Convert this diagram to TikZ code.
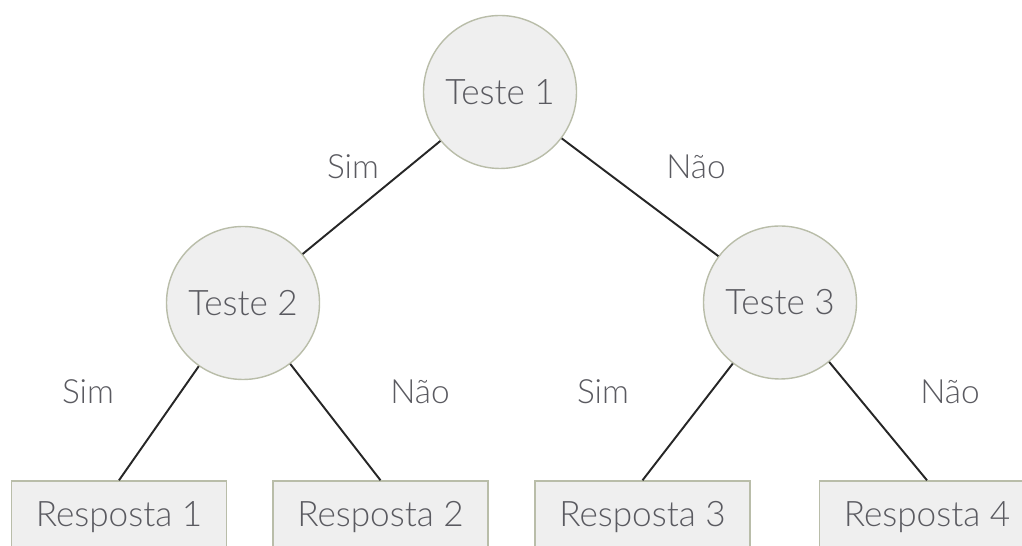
\documentclass[tikz,border=0pt]{standalone}
\usepackage{fontspec}
\setmainfont{Lato}[UprightFont=* Light]
\usepackage{tikz}
\usetikzlibrary{calc}
\definecolor{nodefill}{HTML}{EFEFEF}
\definecolor{nodeline}{HTML}{B9BDA9}
\definecolor{txtgray}{HTML}{5A5A60}
\begin{document}
\begin{tikzpicture}[test/.style={draw=nodeline,fill=nodefill,line width=.8pt,circle,minimum size=3.06cm,inner sep=0pt,text=txtgray,font=\fontsize{20}{24}\selectfont},
answer/.style={draw=nodeline,fill=nodefill,line width=.8pt,minimum width=4.3cm,minimum height=1.44cm,inner sep=0pt,text=txtgray,font=\fontsize{20}{24}\selectfont},
lbl/.style={text=txtgray,font=\fontsize{19}{23}\selectfont},edge/.style={line width=1.1pt,black!85}]
\useasboundingbox(0,0)rectangle(20.44,10.92);\clip(0,0)rectangle(20.44,10.92);
\node[test](t1)at(10.0,9.08){Teste 1};
\node[test](t2)at(4.86,4.86){Teste 2};\node[test](t3)at(15.6,4.87){Teste 3};
\node[answer](r1)at(2.38,.58){Resposta 1};\node[answer](r2)at(7.61,.58){Resposta 2};
\node[answer](r3)at(12.85,.58){Resposta 3};\node[answer](r4)at(18.54,.58){Resposta 4};
\draw[edge](t1)--(t2);\draw[edge](t1)--(t3);
\draw[edge](t2)--(r1.north);\draw[edge](t2)--(r2.north);\draw[edge](t3)--(r3.north);\draw[edge](t3)--(r4.north);
\node[lbl](s1)at(7.06,7.58){Sim};\node[lbl](n1)at(13.92,7.58){Não};
\node[lbl](s2)at(1.76,3.08){Sim};\node[lbl](n2)at(8.4,3.08){Não};
\node[lbl](s3)at(12.06,3.08){Sim};\node[lbl](n3)at(19.0,3.08){Não};
\end{tikzpicture}
\end{document}
